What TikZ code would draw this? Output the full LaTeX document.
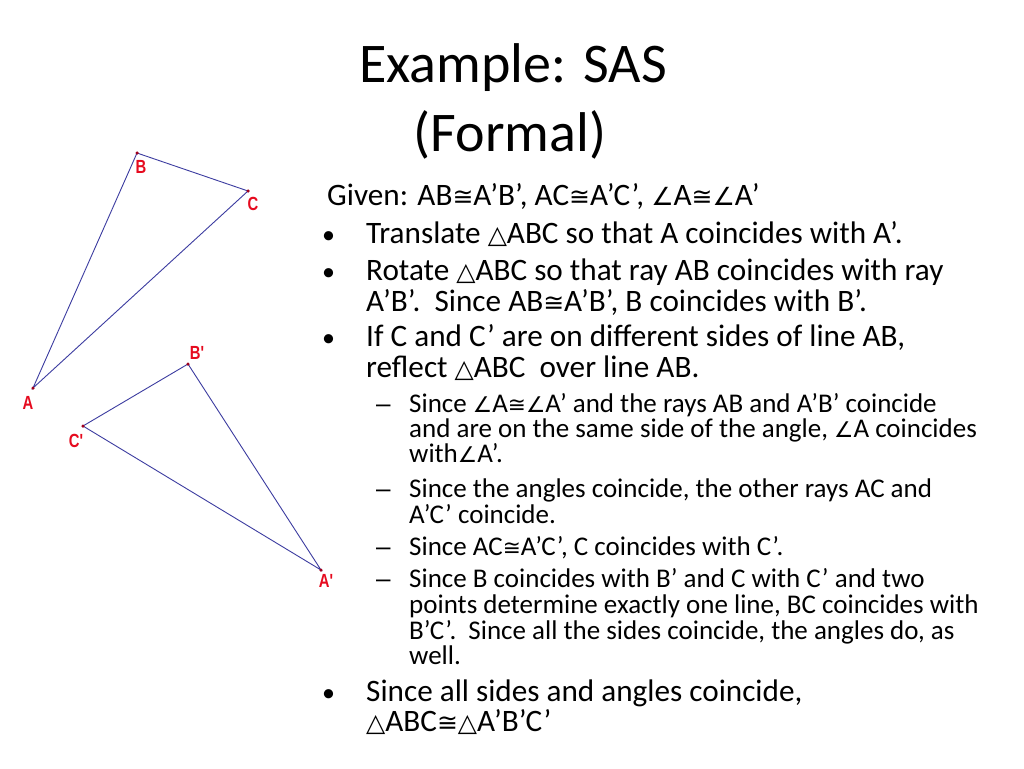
\documentclass[tikz,border=0pt]{standalone}
\usepackage{fontspec}
\usepackage{graphicx}
\setmainfont{Carlito}
\newfontfamily\symf[Scale=0.8]{DejaVu Sans}
\newfontfamily\labf{Liberation Sans}
\newcommand{\mycg}{\smash{\symf ≅}}
\newcommand{\myang}{\smash{\symf ∠}}
\newcommand{\mytri}{\smash{\symf △}}
\newcommand{\lbl}[1]{\scalebox{0.78}[1]{#1}}
\definecolor{edgeblue}{RGB}{60,60,160}
\definecolor{labred}{RGB}{230,10,30}
\definecolor{ptred}{RGB}{160,0,30}
\tikzset{
  ttl/.style={font=\fontsize{56}{68}\selectfont, anchor=base, inner sep=0},
  lone/.style={font=\fontsize{31.2}{34}\selectfont, anchor=base west, inner sep=0},
  ltwo/.style={font=\fontsize{27}{29}\selectfont, anchor=base west, inner sep=0},
  bul/.style={font=\fontsize{26}{28}\selectfont, anchor=base west, inner sep=0},
  dsh/.style={font=\labf\fontsize{26}{28}\selectfont, anchor=base west, inner sep=0},
  edge/.style={draw=edgeblue, line width=0.9pt},
  vtx/.style={circle, fill=ptred, inner sep=0, minimum size=3.5pt},
  lab/.style={text=labred, font=\labf\bfseries\fontsize{19}{19}\selectfont, inner sep=0}
}
\begin{document}
\begin{tikzpicture}[x=1pt,y=-1pt]
\useasboundingbox (0,0) rectangle (1024,768);
\fill[white] (0,0) rectangle (1024,768);
% title
\node[ttl] (t1) at (513,82) {Example: SAS};
\node[ttl] (t2) at (510,151) {(Formal)};
% triangles
\coordinate (A) at (33,388);
\coordinate (B) at (137,153);
\coordinate (C) at (248,191);
\coordinate (Bp) at (188,364);
\coordinate (Cp) at (83,426);
\coordinate (Ap) at (321,570);
\draw[edge] (A) -- (B) -- (C) -- cycle;
\draw[edge] (Ap) -- (Bp) -- (Cp) -- cycle;
\foreach \p in {A,B,C,Ap,Bp,Cp} \node[vtx] (d\p) at (\p) {};
\node[lab] (lA) at (28,403) {\lbl{A}};
\node[lab] (lB) at (141,167) {\lbl{B}};
\node[lab] (lC) at (253,204) {\lbl{C}};
\node[lab] (lBp) at (197,353) {\lbl{B'}};
\node[lab] (lCp) at (76,441) {\lbl{C'}};
\node[lab] (lAp) at (326,581) {\lbl{A'}};
% level 1 text
\node[lone] (g) at (327,205) {Given: AB\mycg A’B’, AC\mycg A’C’, \myang A\mycg\myang A’};
\node[bul] (b1) at (322,243) {•};
\node[lone] (x1) at (366,243) {Translate \mytri ABC so that A coincides with A’.};
\node[bul] (b2) at (322,280) {•};
\node[lone] (x2) at (366,280) {Rotate \mytri ABC so that ray AB coincides with ray};
\node[lone] (x3) at (366,311) {A’B’.\ \ Since AB\mycg A’B’, B coincides with B’.};
\node[bul] (b3) at (322,346) {•};
\node[lone] (x4) at (366,346) {If C and C’ are on different sides of line AB,};
\node[lone] (x5) at (366,377) {reflect \mytri ABC\ \ over line AB.};
% level 2 text
\node[dsh] (d1) at (376,412) {–};
\node[ltwo] (s1) at (409,412) {Since \myang A\mycg\myang A’ and the rays AB and A’B’ coincide};
\node[ltwo] (s2) at (409,437) {and are on the same side of the angle, \myang A coincides};
\node[ltwo] (s3) at (409,462) {with\myang A’.};
\node[dsh] (d2) at (376,497) {–};
\node[ltwo] (s4) at (409,497) {Since the angles coincide, the other rays AC and};
\node[ltwo] (s5) at (409,523) {A’C’ coincide.};
\node[dsh] (d3) at (376,555) {–};
\node[ltwo] (s6) at (409,555) {Since AC\mycg A’C’, C coincides with C’.};
\node[dsh] (d4) at (376,587) {–};
\node[ltwo] (s7) at (409,587) {Since B coincides with B’ and C with C’ and two};
\node[ltwo] (s8) at (409,613) {points determine exactly one line, BC coincides with};
\node[ltwo] (s9) at (409,639) {B’C’.\ \ Since all the sides coincide, the angles do, as};
\node[ltwo] (s10) at (409,664) {well.};
% final bullet
\node[bul] (b4) at (322,701) {•};
\node[lone] (x6) at (366,701) {Since all sides and angles coincide,};
\node[lone] (x7) at (366,731) {\mytri ABC\mycg\mytri A’B’C’};
\end{tikzpicture}
\end{document}
